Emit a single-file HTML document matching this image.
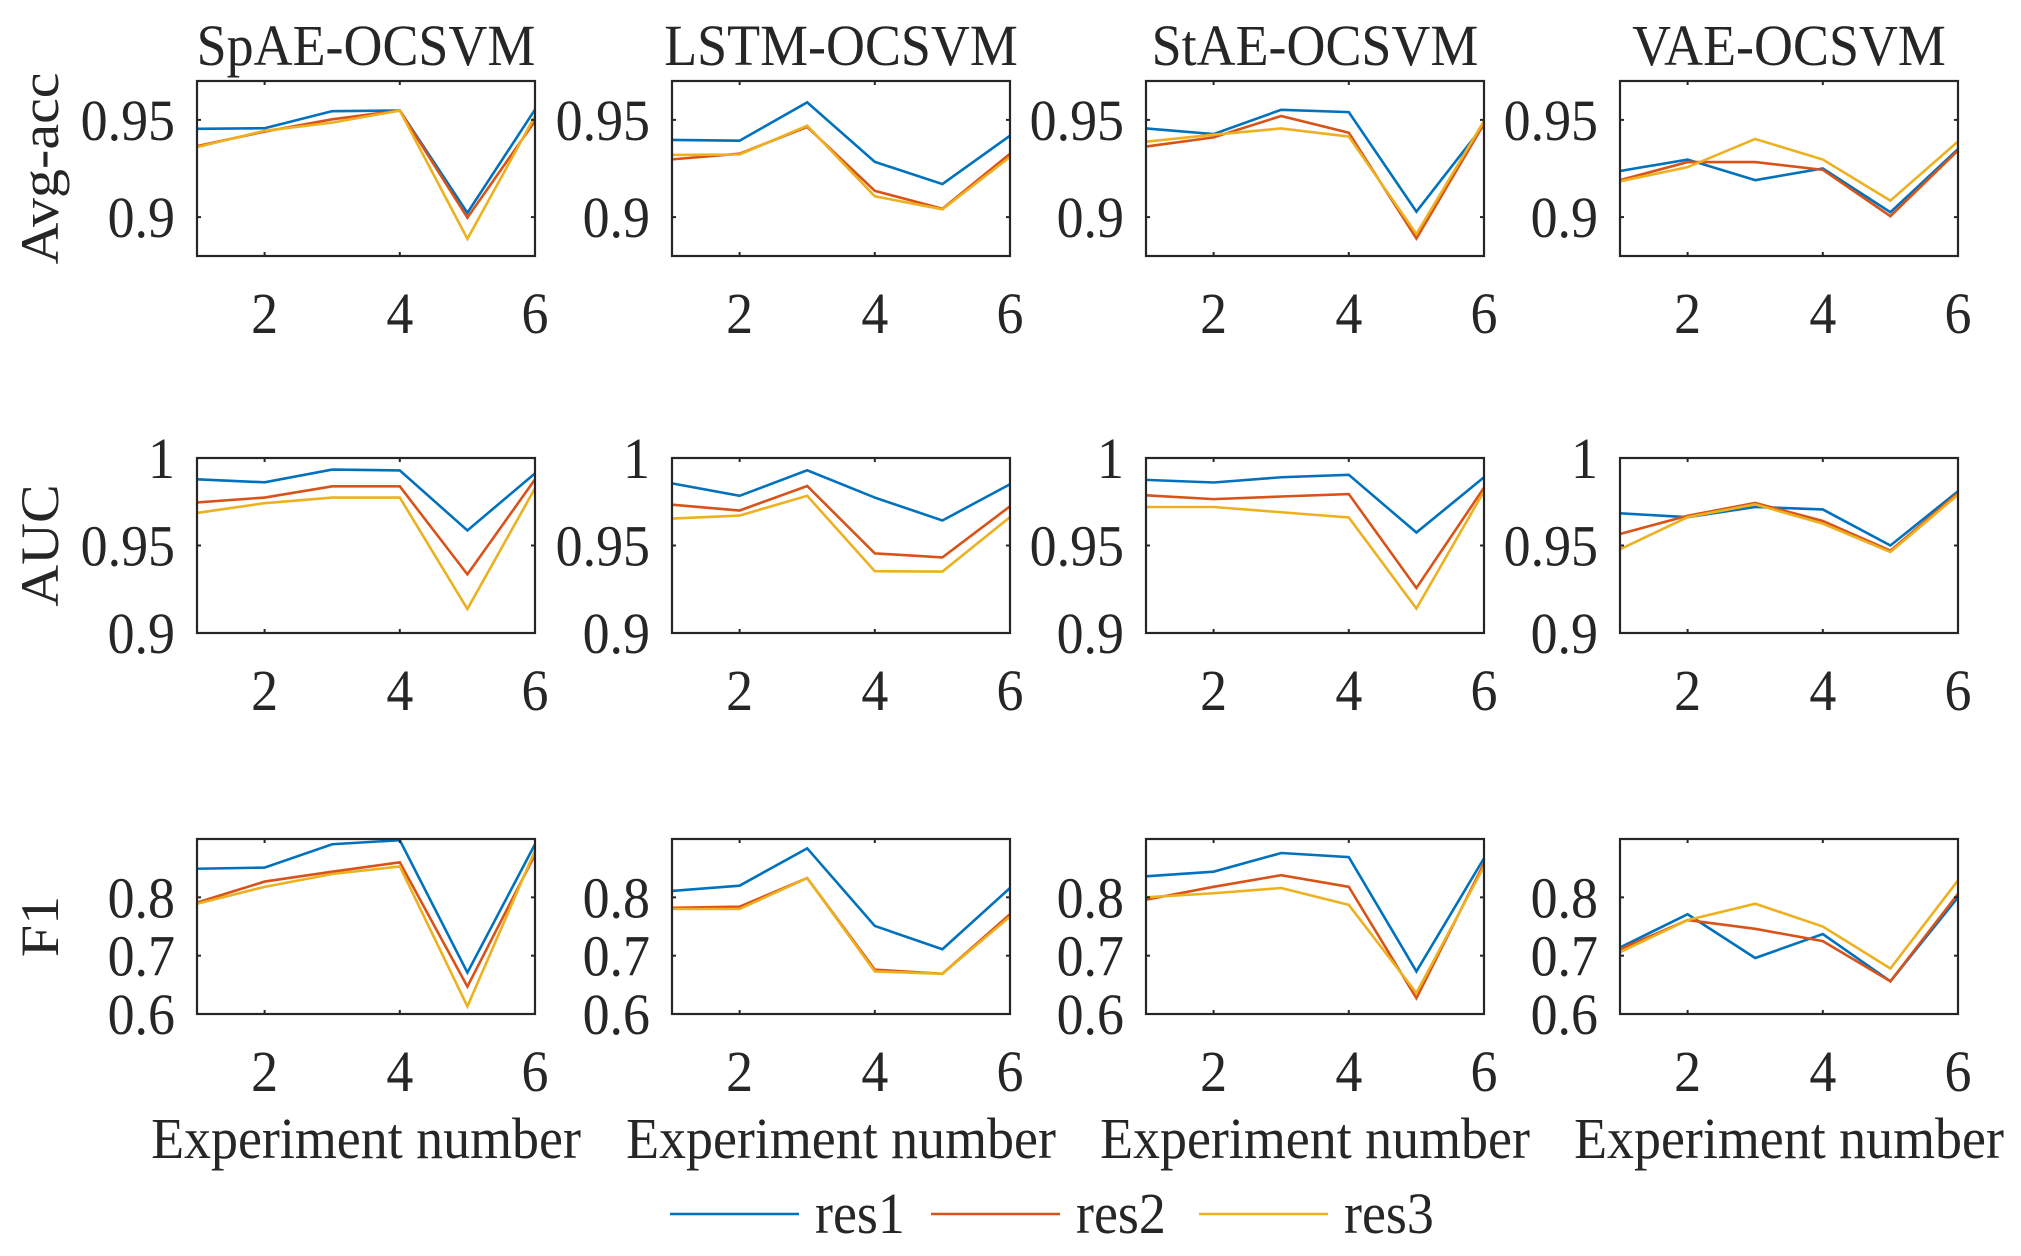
<!DOCTYPE html>
<html><head><meta charset="utf-8"><style>
html,body{margin:0;padding:0;background:#fff;}
svg{display:block;font-family:"Liberation Serif",serif;}
</style></head><body>
<svg id="chart" width="2021" height="1256" viewBox="0 0 2021 1256" xmlns="http://www.w3.org/2000/svg"></svg>
<script>
const methods = ["SpAE-OCSVM","LSTM-OCSVM","StAE-OCSVM","VAE-OCSVM"];
const metrics = ["Avg-acc","AUC","F1"];
const experiments = [1,2,3,4,5,6];
const xTicks = [2,4,6];
const seriesNames = ["res1","res2","res3"];
const seriesColors = ["#0072BD","#D95319","#EDB120"];
const yLimits = [[0.88,0.97],[0.9,1.0],[0.6,0.9]];
const yTickVals = [[0.9,0.95],[0.9,0.95,1],[0.6,0.7,0.8]];
const yTickLabels = [["0.9","0.95"],["0.9","0.95","1"],["0.6","0.7","0.8"]];
// Avg-acc
const acc_SpAE = [[0.9454,0.9457,0.9545,0.9548,0.9022,0.9553],[0.9365,0.9440,0.9503,0.9548,0.8997,0.9494],[0.9360,0.9444,0.9486,0.9548,0.8888,0.9520]];
const acc_LSTM = [[0.9397,0.9393,0.9590,0.9284,0.9170,0.9419],[0.9297,0.9326,0.9464,0.9135,0.9043,0.9326],[0.9320,0.9322,0.9470,0.9107,0.9040,0.9309]];
const acc_StAE = [[0.9456,0.9427,0.9552,0.9540,0.9028,0.9474],[0.9363,0.9410,0.9520,0.9434,0.8890,0.9480],[0.9388,0.9424,0.9456,0.9414,0.8913,0.9494]];
const acc_VAE = [[0.9237,0.9296,0.9190,0.9250,0.9025,0.9350],[0.9190,0.9283,0.9283,0.9243,0.9005,0.9343],[0.9184,0.9257,0.9402,0.9296,0.9085,0.9389]];
// AUC
const auc_SpAE = [[0.9878,0.9861,0.9934,0.9929,0.9586,0.9912],[0.9746,0.9774,0.9838,0.9838,0.9335,0.9878],[0.9686,0.9742,0.9774,0.9774,0.9137,0.9827]];
const auc_LSTM = [[0.9855,0.9784,0.9930,0.9774,0.9643,0.9850],[0.9733,0.9700,0.9840,0.9455,0.9432,0.9724],[0.9654,0.9671,0.9784,0.9353,0.9351,0.9662]];
const auc_StAE = [[0.9875,0.9860,0.9890,0.9904,0.9574,0.9890],[0.9787,0.9765,0.9780,0.9794,0.9257,0.9830],[0.9720,0.9720,0.9690,0.9660,0.9140,0.9810]];
const auc_VAE = [[0.9684,0.9662,0.9720,0.9706,0.9500,0.9810],[0.9566,0.9670,0.9743,0.9640,0.9470,0.9800],[0.9478,0.9662,0.9735,0.9625,0.9463,0.9790]];
// F1
const f1_SpAE = [[0.849,0.851,0.891,0.898,0.671,0.891],[0.791,0.827,0.844,0.860,0.647,0.873],[0.789,0.818,0.840,0.853,0.613,0.880]];
const f1_LSTM = [[0.811,0.820,0.884,0.751,0.711,0.816],[0.782,0.784,0.833,0.676,0.669,0.771],[0.780,0.780,0.833,0.673,0.669,0.767]];
const f1_StAE = [[0.836,0.844,0.876,0.869,0.673,0.867],[0.796,0.818,0.838,0.818,0.627,0.858],[0.800,0.807,0.816,0.787,0.636,0.853]];
const f1_VAE = [[0.714,0.771,0.696,0.737,0.656,0.800],[0.711,0.761,0.746,0.725,0.656,0.806],[0.706,0.761,0.789,0.750,0.678,0.829]];

const grid = [[acc_SpAE,acc_LSTM,acc_StAE,acc_VAE],[auc_SpAE,auc_LSTM,auc_StAE,auc_VAE],[f1_SpAE,f1_LSTM,f1_StAE,f1_VAE]];

const NS="http://www.w3.org/2000/svg";
const svg=document.getElementById('chart');
function mk(tag,attrs,parent){const e=document.createElementNS(NS,tag);for(const k in attrs)e.setAttribute(k,attrs[k]);(parent||svg).appendChild(e);return e;}
const colL=[197,672,1146,1620], W=338;
const rowT=[81,458,839], H=175;
const FS=58, SX=0.93;
function txt(str,x,y,anchor,parent,name){
  const t=mk('text',{x:0,y:0,'font-size':FS,fill:'#262626','text-anchor':anchor,transform:`translate(${x},${y}) scale(${SX},1)`},parent);
  t.textContent=str;
  
  
  return t;
}
for(let r=0;r<3;r++){
  for(let c=0;c<4;c++){
    const L=colL[c],T=rowT[r];
    const [y0,y1]=yLimits[r];
    const xs=v=>L+(v-1)/5*W;
    const ys=v=>T+H-(v-y0)/(y1-y0)*H;
    const g=mk('g',{});
    
    
    const data=grid[r][c];
    data.forEach((s,si)=>{
      const p=mk('polyline',{points:s.map((v,i)=>xs(experiments[i])+','+ys(v)).join(' '),fill:'none',stroke:seriesColors[si],'stroke-width':2.6,'stroke-linejoin':'miter'},g);
      
      
    });
    const box=mk('rect',{x:L,y:T,width:W,height:H,fill:'none',stroke:'#262626','stroke-width':2.2},g);
    
    
    xTicks.forEach(v=>{
      const x=xs(v);
      mk('line',{x1:x,y1:T+H,x2:x,y2:T+H-4,stroke:'#262626','stroke-width':2},g);
      mk('line',{x1:x,y1:T,x2:x,y2:T+4,stroke:'#262626','stroke-width':2},g);
      txt(String(v),x,T+H+77,'middle',g,'x-tick-label');
    });
    yTickVals[r].forEach((v,i)=>{
      const y=ys(v);
      mk('line',{x1:L,y1:y,x2:L+4,y2:y,stroke:'#262626','stroke-width':2},g);
      mk('line',{x1:L+W,y1:y,x2:L+W-4,y2:y,stroke:'#262626','stroke-width':2},g);
      txt(yTickLabels[r][i],L-22,y+20,'end',g,'y-tick-label');
    });
    if(r===0) txt(methods[c],L+W/2,T-16,'middle',g,'panel-title');
    if(r===2) txt('Experiment number',L+W/2,1158,'middle',g,'x-axis-title');
  }
  const yl=mk('text',{x:0,y:0,'font-size':FS,fill:'#262626','text-anchor':'middle',transform:`translate(58,${rowT[r]+H/2}) rotate(-90) scale(1,${SX})`});
  yl.textContent=metrics[r];
  
  
}
const lx=[670,931,1199];
seriesNames.forEach((n,i)=>{
  const g=mk('g',{});
  
  
  mk('line',{x1:lx[i],y1:1214,x2:lx[i]+129,y2:1214,stroke:seriesColors[i],'stroke-width':2.6},g);
  txt(n,lx[i]+145,1233,'start',g,'legend-label');
});
</script>
</body></html>
